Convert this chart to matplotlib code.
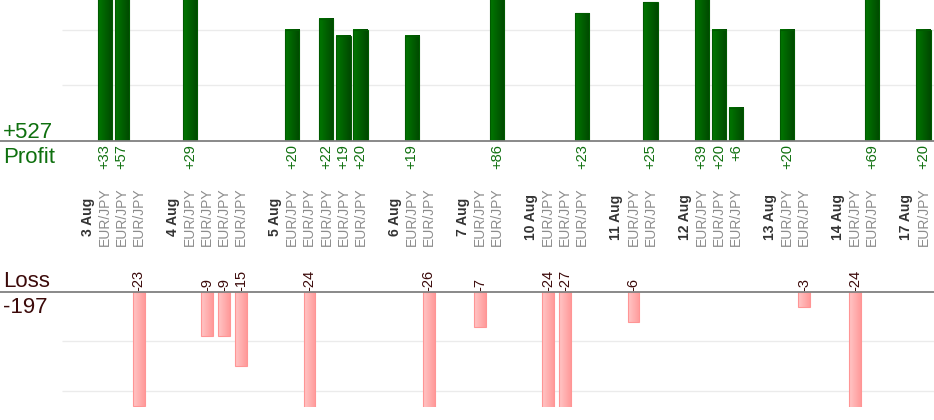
import matplotlib
matplotlib.use("Agg")
import numpy as np
import matplotlib.pyplot as plt
import matplotlib.transforms as mtransforms
from matplotlib.colors import LinearSegmentedColormap

plt.rcParams['font.family'] = ['Liberation Sans', 'DejaVu Sans']

# trading days and the pair traded
days = ['3 Aug', '4 Aug', '5 Aug', '6 Aug', '7 Aug', '10 Aug',
        '11 Aug', '12 Aug', '13 Aug', '14 Aug', '17 Aug']
trades_per_day = [3, 4, 5, 2, 2, 3, 2, 3, 2, 2, 1]
pair = 'EUR/JPY'
# result of each trade in pips, in order
pnl = [33, 57, -23,
       29, -9, -9, -15,
       20, -24, 22, 19, 20,
       19, -26,
       -7, 86,
       -24, -27, 23,
       -6, 25,
       39, 20, 6,
       20, -3,
       -24, 69,
       20]

green_txt = '#0f700f'
brown = '#3c0a0a'
green_grad = LinearSegmentedColormap.from_list('g', ['#007800', '#004800'])
pink_grad = LinearSegmentedColormap.from_list('p', ['#ffc6c6', '#ff9a9a'])

# slot layout: blank, day label, trades ... repeated
day_pos = []
trade_pos = []
slot = 0
for n in trades_per_day:
    slot += 1
    day_pos.append(slot)
    for k in range(n):
        slot += 1
        trade_pos.append(slot)
    slot += 1

W, H = 934, 420
fig = plt.figure(figsize=(W / 100, H / 100), dpi=100)

slot_px = 17.06
x_left = -0.5 - 62 / slot_px
x_right = 50.5 + 2 / slot_px
top_lim = (0, 25.4)
bot_lim = (-23.3, 0)

ax_top = fig.add_axes([0, (H - 141) / H, 1, 141 / H])
ax_bot = fig.add_axes([0, (H - 407) / H, 1, 115 / H])

for ax in (ax_top, ax_bot):
    ax.axis('off')

# gridlines
ax_top.hlines([10, 20], -0.5, x_right, color='#ebebeb', lw=1, zorder=0)
ax_bot.hlines([-10, -20], -0.5, x_right, color='#ebebeb', lw=1, zorder=0)

wins = [(x, v) for x, v in zip(trade_pos, pnl) if v > 0]
losses = [(x, v) for x, v in zip(trade_pos, pnl) if v < 0]

grad = np.linspace(0, 1, 64).reshape(1, -1)


def shaded_bars(ax, xs, vals, width, cmap, edge, ylim):
    bars = ax.bar(xs, vals, width=width, color='none', edgecolor=edge, lw=0.8, zorder=3)
    for b in bars:
        x0 = b.get_x()
        y0, y1 = sorted((b.get_y(), b.get_y() + b.get_height()))
        y0, y1 = max(y0, ylim[0]), min(y1, ylim[1])
        ax.imshow(grad, cmap=cmap, aspect='auto', zorder=2,
                  extent=(x0, x0 + b.get_width(), y0, y1))


shaded_bars(ax_top, [x for x, v in wins], [v for x, v in wins], 0.83,
            green_grad, '#005a00', top_lim)
shaded_bars(ax_bot, [x for x, v in losses], [v for x, v in losses], 0.68,
            pink_grad, '#ff9595', bot_lim)

ax_top.set_xlim(x_left, x_right)
ax_bot.set_xlim(x_left, x_right)
ax_top.set_ylim(*top_lim)
ax_bot.set_ylim(*bot_lim)

ax_top.axhline(0, color='#808080', lw=1.3, zorder=4, clip_on=False)
ax_bot.axhline(0, color='#808080', lw=1.3, zorder=4, clip_on=False)

for x, v in wins:
    ax_top.annotate(f'+{v}', xy=(x, 0), xytext=(0, -2.5), textcoords='offset points',
                    rotation=90, ha='center', va='top', fontsize=10.5,
                    color=green_txt, annotation_clip=False)
for x, v in losses:
    ax_bot.annotate(f'{v}', xy=(x, 0), xytext=(0, 0.8), textcoords='offset points',
                    rotation=90, ha='center', va='bottom', fontsize=10.5,
                    color=brown, annotation_clip=False)

# day and pair labels in the middle band
mid = mtransforms.blended_transform_factory(ax_top.transData, fig.transFigure)
y_mid = (H - 217) / H
for x, d in zip(day_pos, days):
    ax_top.text(x, y_mid, d, transform=mid, rotation=90, ha='center', va='center',
                fontsize=10, fontweight='bold', color='#333333')
for x in trade_pos:
    ax_top.text(x, y_mid, pair, transform=mid, rotation=90, ha='center', va='center',
                fontsize=10, color='#8c8c8c')

total_win = sum(v for v in pnl if v > 0)
total_loss = sum(v for v in pnl if v < 0)

fig.text(3 / W, (H - 137.5) / H, f'+{total_win}', fontsize=16, color=green_txt, va='baseline')
fig.text(3 / W, (H - 163) / H, 'Profit', fontsize=16, color=green_txt, va='baseline')
fig.text(3 / W, (H - 287) / H, 'Loss', fontsize=16, color=brown, va='baseline')
fig.text(3 / W, (H - 313) / H, f'{total_loss}', fontsize=16, color=brown, va='baseline')

fig.savefig('out.png', dpi=100)
